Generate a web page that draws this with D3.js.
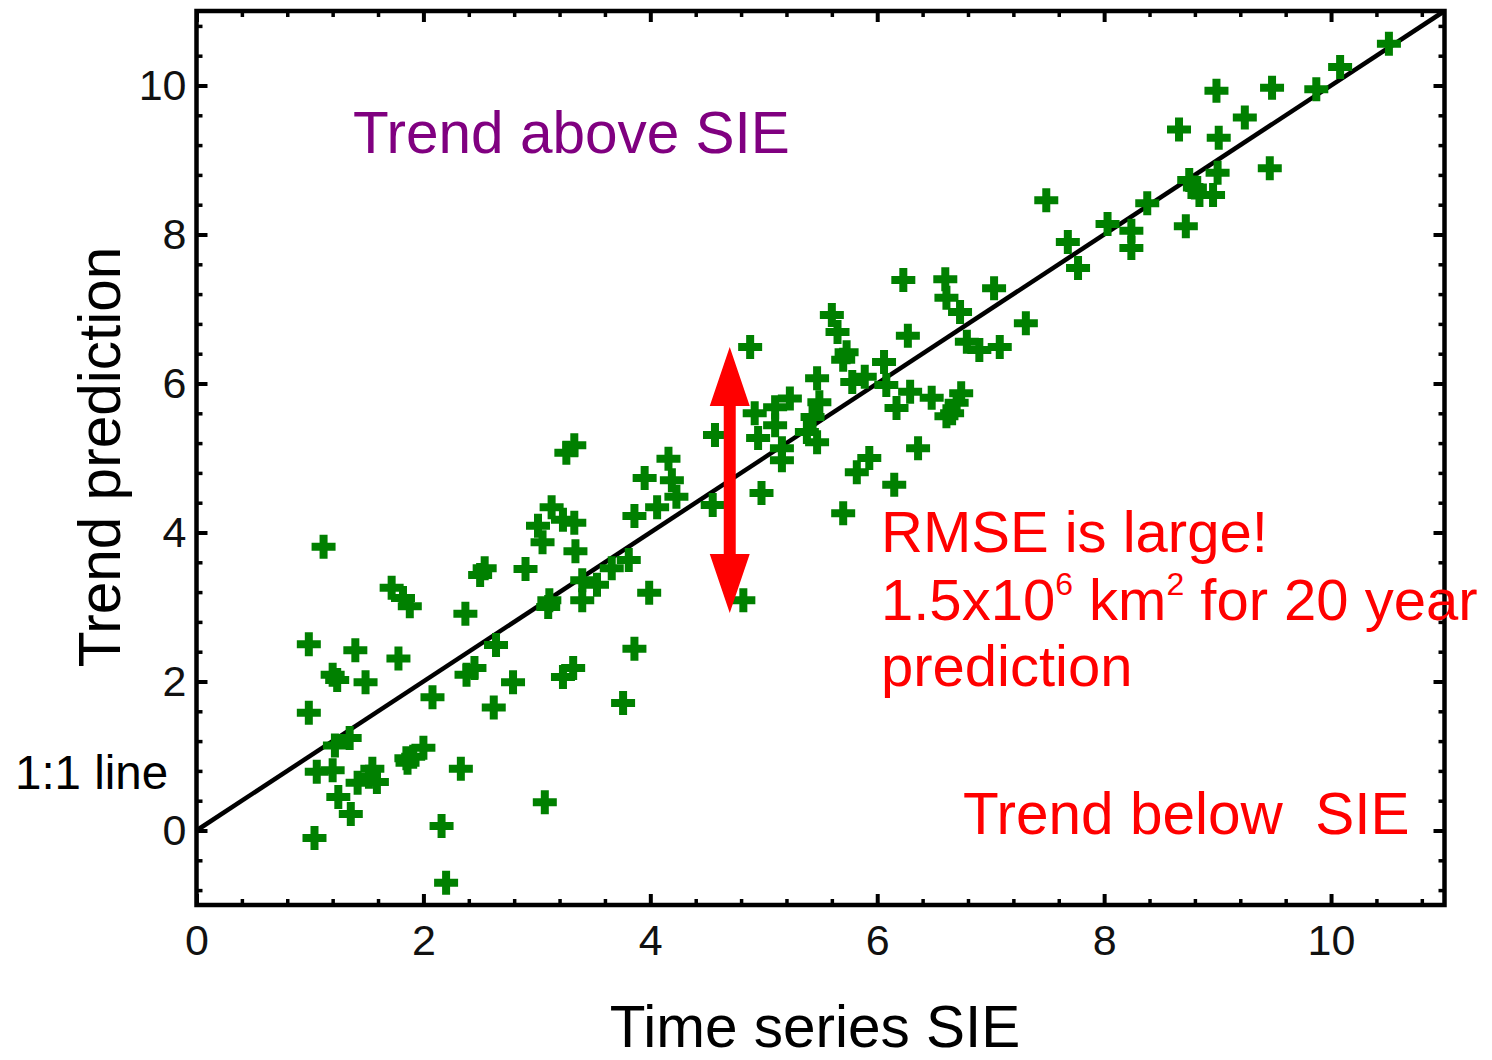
<!DOCTYPE html>
<html>
<head>
<meta charset="utf-8">
<script src="https://cdn.jsdelivr.net/npm/d3@7"></script>
<style>
  body { margin: 0; background: #fff; }
  svg { display: block; font-family: "Liberation Sans", Arial, sans-serif; }
</style>
</head>
<body>
<svg id="chart" width="1492" height="1060"></svg>
<script>
// time series SIE (x) vs trend prediction (y)
const sieValues = [
  1.12, 1.72, 1.82, 1.88, 2.50, 2.54, 2.37, 0.99, 1.40, 1.78, 1.20, 1.24, 1.49, 2.45, 2.38,
  2.08, 0.99, 1.22, 1.35, 1.06, 1.20, 1.25, 1.36, 1.42, 1.55, 1.59, 1.52, 1.85, 2.00, 1.91,
  1.86, 2.33, 1.04, 2.16, 2.20,
  3.33, 3.26, 4.16, 3.95, 4.19, 4.23, 4.06, 3.86, 3.13, 3.01, 3.23, 3.33, 3.05, 3.34, 2.90,
  3.11, 3.10, 3.40, 3.53, 3.40, 3.66, 3.81, 3.99, 2.64, 2.79, 2.62, 3.32, 3.23, 3.86, 3.76,
  3.07,
  6.23, 6.60, 7.03, 6.61, 6.73, 5.60, 5.65, 6.27, 4.88, 5.73, 5.70, 6.79, 6.90, 7.08, 6.06,
  5.47, 5.78, 5.89, 6.08, 6.29, 6.48, 6.74, 6.70, 6.66, 6.61, 6.17, 5.49, 5.23, 4.92, 5.10,
  5.10, 4.95, 5.43, 5.38, 5.47, 5.16, 5.16, 4.57, 4.98, 4.55, 6.36, 5.93, 5.82, 6.15, 5.70,
  4.82,
  10.51, 10.08, 9.87, 9.48, 8.99, 9.24, 8.66, 9.01, 9.46, 9.00, 8.75, 8.80, 8.84, 8.96, 7.49,
  8.38, 8.03, 8.24, 8.24, 8.72, 7.68, 7.77, 7.31
];
const trendValues = [
  3.81, 3.26, 3.12, 3.01, 3.43, 3.52, 2.91, 2.50, 2.42, 2.31, 2.09, 2.02, 1.99, 2.18, 2.09,
  1.79, 1.58, 1.14, 1.24, 0.79, 0.81, 0.45, 0.22, 0.64, 0.83, 0.65, 0.72, 0.97, 1.11, 0.99,
  0.91, 0.83, -0.10, 0.06, -0.70,
  5.17, 5.07, 4.99, 4.73, 4.70, 4.48, 4.34, 4.22, 4.34, 4.09, 4.17, 4.13, 3.87, 3.75, 3.51,
  3.09, 3.00, 3.36, 3.30, 3.09, 3.52, 3.63, 3.19, 2.49, 1.99, 1.65, 2.18, 2.06, 2.44, 1.71,
  0.38,
  7.39, 7.40, 7.28, 7.15, 6.96, 6.92, 6.69, 6.64, 6.49, 6.42, 6.32, 6.56, 6.45, 6.49, 6.29,
  6.07, 6.02, 6.09, 5.98, 5.89, 5.81, 5.87, 5.74, 5.60, 5.56, 5.67, 5.75, 5.80, 5.60, 5.68,
  5.44, 5.27, 5.55, 5.35, 5.21, 5.13, 4.97, 5.31, 4.53, 4.37, 5.13, 5.00, 4.81, 4.64, 4.26,
  3.09,
  10.56, 10.25, 9.95, 9.97, 9.93, 9.57, 9.41, 9.30, 8.89, 8.83, 8.73, 8.63, 8.53, 8.53, 8.46,
  8.42, 8.14, 8.05, 7.82, 8.11, 7.90, 7.55, 6.81
];

const xTicks = [0, 2, 4, 6, 8, 10];
const yTicks = [0, 2, 4, 6, 8, 10];
const minorStep = 0.4;
const oneToOne = [[0, 0], [11, 11]];
// the RMSE arrow: x position and span in data units
const arrowX = 4.7;
const arrowSpan = [2.92, 6.49];

const svg = d3.select("#chart");
const plotL = 196.5, plotR = 1444.5, plotT = 11, plotB = 905;

const x = d3.scaleLinear().domain([0, 11]).range([plotL, plotR]);
const y = d3.scaleLinear().domain([-1, 11]).range([plotB, plotT]);

const isMajor = v => Math.abs(v / 2 - Math.round(v / 2)) < 1e-6;
const minorX = d3.range(0, 11.001, minorStep).filter(v => !isMajor(v));
const minorY = d3.range(-0.8, 11.001, minorStep).filter(v => !isMajor(v));

// 1:1 line
svg.append("path")
  .datum(oneToOne)
  .attr("fill", "none")
  .attr("stroke", "#000")
  .attr("stroke-width", 4.5)
  .attr("d", d3.line().x(d => x(d[0])).y(d => y(d[1])));

// scatter
const cross = d3.symbol(d3.symbolCross, 320);
svg.append("g")
  .selectAll("path")
  .data(sieValues.map((v, i) => [v, trendValues[i]]))
  .join("path")
  .attr("transform", d => `translate(${x(d[0])},${y(d[1])})`)
  .attr("d", cross)
  .attr("fill", "#008000");

// axes, ticks pointing in on all four sides
function styleAxis(g, w) {
  g.select(".domain").remove();
  g.selectAll("line").attr("stroke", "#000").attr("stroke-width", w);
  g.selectAll("text")
    .attr("fill", "#111")
    .style("font-size", "43px")
    .style("font-family", "'Liberation Sans', Arial, sans-serif");
}

svg.append("g").attr("transform", `translate(0,${plotB})`)
  .call(d3.axisBottom(x).tickValues(xTicks).tickSize(-11).tickPadding(19).tickFormat(d3.format("d")))
  .call(g => styleAxis(g, 4));
svg.append("g").attr("transform", `translate(0,${plotB})`)
  .call(d3.axisBottom(x).tickValues(minorX).tickSize(-6).tickFormat(""))
  .call(g => styleAxis(g, 3.5));
svg.append("g").attr("transform", `translate(0,${plotT})`)
  .call(d3.axisTop(x).tickValues(xTicks).tickSize(-11).tickFormat(""))
  .call(g => styleAxis(g, 4));
svg.append("g").attr("transform", `translate(0,${plotT})`)
  .call(d3.axisTop(x).tickValues(minorX).tickSize(-6).tickFormat(""))
  .call(g => styleAxis(g, 3.5));

svg.append("g").attr("transform", `translate(${plotL},0)`)
  .call(d3.axisLeft(y).tickValues(yTicks).tickSize(-11).tickPadding(10).tickFormat(d3.format("d")))
  .call(g => styleAxis(g, 4));
svg.append("g").attr("transform", `translate(${plotL},0)`)
  .call(d3.axisLeft(y).tickValues(minorY).tickSize(-6).tickFormat(""))
  .call(g => styleAxis(g, 3.5));
svg.append("g").attr("transform", `translate(${plotR},0)`)
  .call(d3.axisRight(y).tickValues(yTicks).tickSize(-11).tickFormat(""))
  .call(g => styleAxis(g, 4));
svg.append("g").attr("transform", `translate(${plotR},0)`)
  .call(d3.axisRight(y).tickValues(minorY).tickSize(-6).tickFormat(""))
  .call(g => styleAxis(g, 3.5));

// frame
svg.append("rect")
  .attr("x", plotL).attr("y", plotT)
  .attr("width", plotR - plotL).attr("height", plotB - plotT)
  .attr("fill", "none")
  .attr("stroke", "#000")
  .attr("stroke-width", 4.5);

// double arrow
const ax = x(arrowX), aTop = y(arrowSpan[1]), aBot = y(arrowSpan[0]);
const headL = 59, headW = 20, shaftW = 6;
svg.append("path")
  .attr("fill", "#ff0000")
  .attr("d", `M${ax},${aTop} L${ax + headW},${aTop + headL} L${ax + shaftW},${aTop + headL}
    L${ax + shaftW},${aBot - headL} L${ax + headW},${aBot - headL} L${ax},${aBot}
    L${ax - headW},${aBot - headL} L${ax - shaftW},${aBot - headL} L${ax - shaftW},${aTop + headL}
    L${ax - headW},${aTop + headL} Z`);

// labels
svg.append("text")
  .attr("x", 353).attr("y", 153)
  .attr("fill", "#800080")
  .style("font-size", "58.5px")
  .text("Trend above SIE");

svg.append("text")
  .attr("x", 963).attr("y", 834)
  .attr("fill", "#ff0000")
  .style("font-size", "58.5px")
  .style("white-space", "pre")
  .text("Trend below  SIE");

svg.append("text")
  .attr("x", 15).attr("y", 789)
  .attr("fill", "#000")
  .style("font-size", "47.5px")
  .text("1:1 line");

const rmse = svg.append("g").attr("fill", "#ff0000").style("font-size", "58px");
rmse.append("text").attr("x", 881).attr("y", 552).text("RMSE is large!");
const l2 = rmse.append("text").attr("x", 881).attr("y", 620);
l2.append("tspan").text("1.5x10");
l2.append("tspan").attr("dy", -25).style("font-size", "32px").text("6");
l2.append("tspan").attr("dy", 25).text(" km");
l2.append("tspan").attr("dy", -25).style("font-size", "32px").text("2");
l2.append("tspan").attr("dy", 25).text(" for 20 year");
rmse.append("text").attr("x", 881).attr("y", 686).text("prediction");

svg.append("text")
  .attr("text-anchor", "middle")
  .attr("transform", "translate(120,457) rotate(-90)")
  .style("font-size", "58.5px")
  .text("Trend prediction");

svg.append("text")
  .attr("text-anchor", "middle")
  .attr("x", 815).attr("y", 1047)
  .style("font-size", "58.5px")
  .text("Time series SIE");
</script>
</body>
</html>
